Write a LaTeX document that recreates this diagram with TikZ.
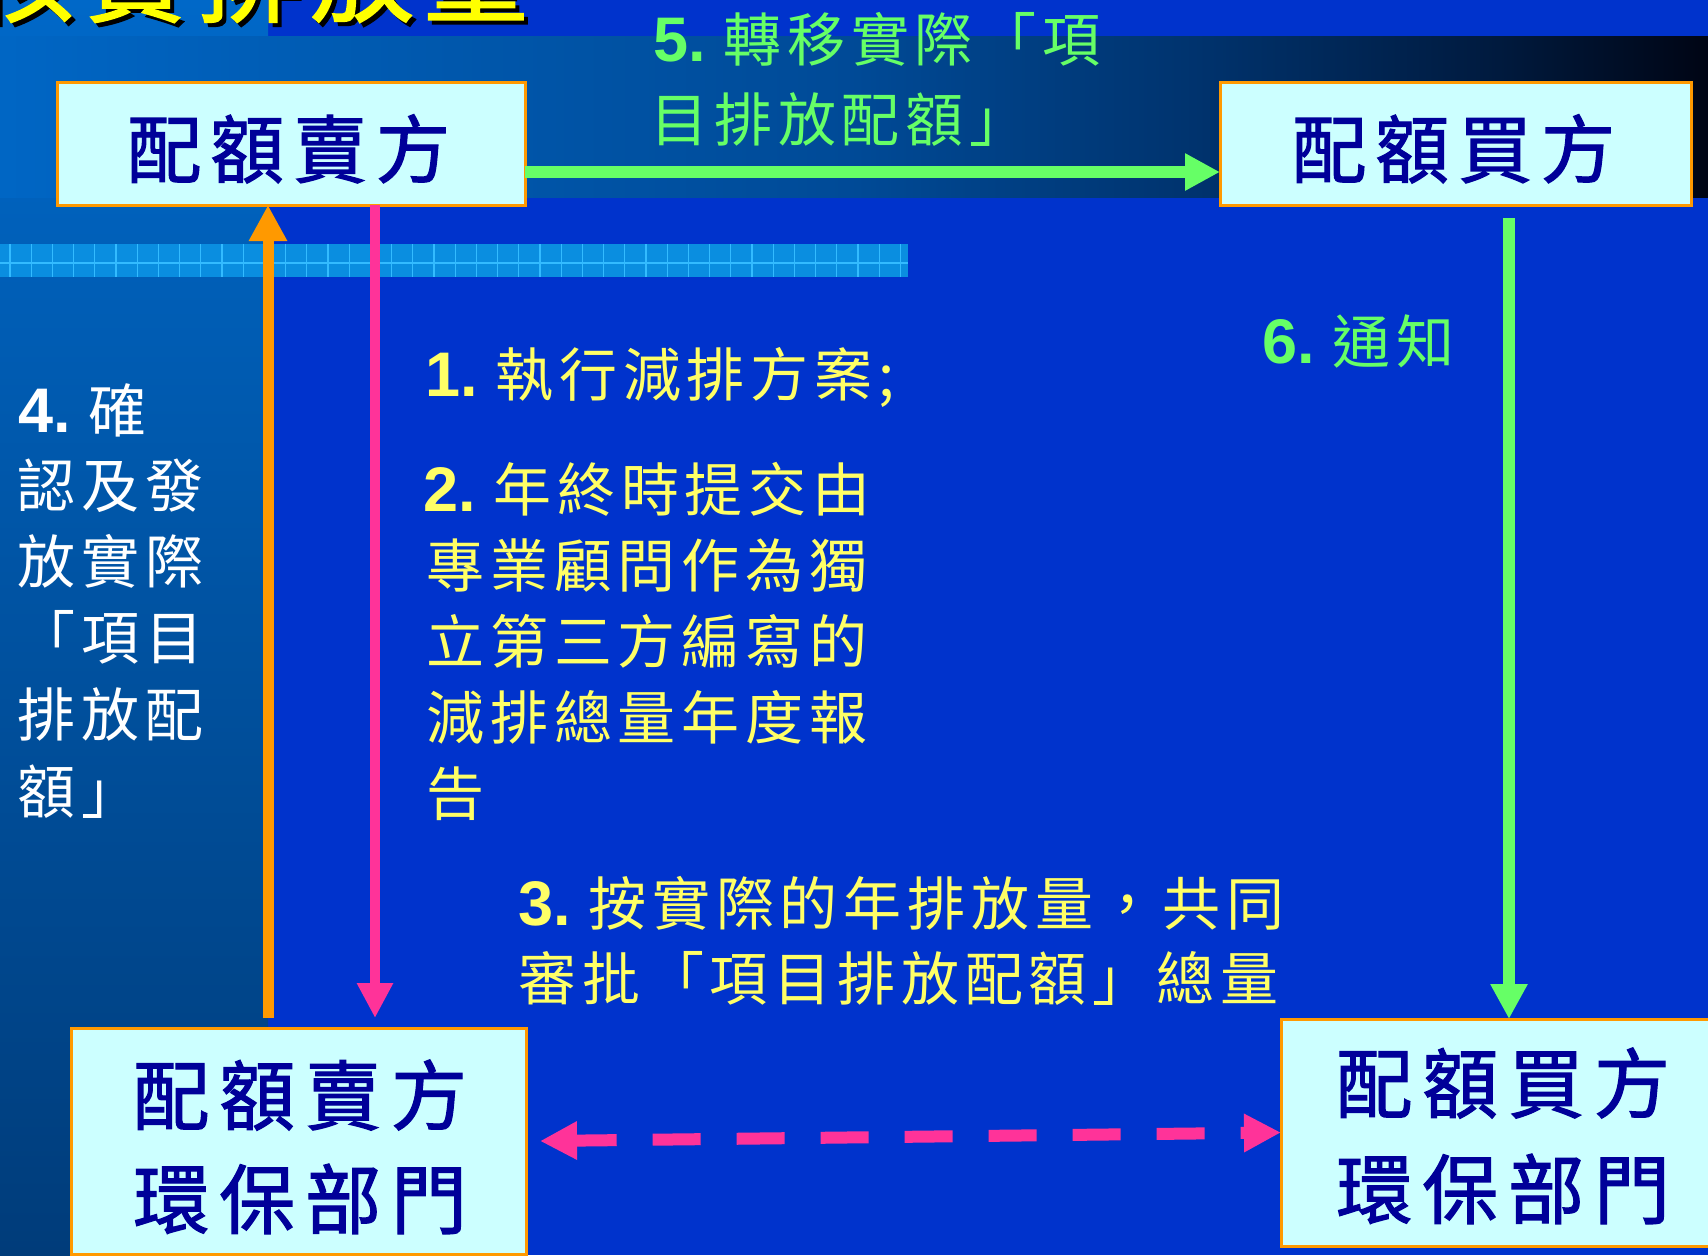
\documentclass[tikz,border=0pt]{standalone}
\usepackage{fontspec}
\newfontfamily\cjkf{Noto Sans CJK TC}
\newfontfamily\cjkfb{Noto Sans CJK TC}[FakeBold=1.6]
\newfontfamily\numf{Liberation Sans}
\usetikzlibrary{arrows.meta,calc}
\definecolor{bgblue}{HTML}{0033CC}
\definecolor{stripTop}{HTML}{0068C8}
\definecolor{stripBot}{HTML}{003C7A}
\definecolor{gridfill}{HTML}{0A8EE0}
\definecolor{gridline}{HTML}{33BBFF}
\definecolor{boxfill}{HTML}{CCFFFF}
\definecolor{boxedge}{HTML}{FF9900}
\definecolor{boxtext}{HTML}{000099}
\definecolor{lgreen}{HTML}{66FF66}
\definecolor{lyellow}{HTML}{FFFF66}
\definecolor{aorange}{HTML}{FF9900}
\definecolor{apink}{HTML}{FF3399}
\definecolor{ttlyellow}{HTML}{FFFF00}
\pgfdeclarehorizontalshading{bandshade}{100bp}{rgb(0bp)=(0,0.40,0.77); rgb(25bp)=(0,0.40,0.77); rgb(50bp)=(0,0.29,0.59); rgb(60bp)=(0,0.20,0.43); rgb(69bp)=(0,0.10,0.24); rgb(75bp)=(0,0.02,0.08); rgb(100bp)=(0,0.02,0.08)}
\newcommand\BoxFont{\cjkfb\fontsize{38pt}{44pt}\selectfont\addfontfeature{LetterSpace=13}}
\newcommand\BoxFontTop{\cjkfb\fontsize{37pt}{44pt}\selectfont\addfontfeature{LetterSpace=12}}
\newcommand\LbTxt{\cjkf\fontsize{29pt}{34pt}\selectfont\addfontfeature{LetterSpace=10}}
\newcommand\LbNum{\numf\bfseries\fontsize{31.5pt}{34pt}\selectfont}
\newcommand\TitleFont{\cjkfb\fontsize{52pt}{60pt}\selectfont\addfontfeature{LetterSpace=9}}
\begin{document}
\begin{tikzpicture}[x=0.5pt,y=-0.5pt,
  box/.style={draw=boxedge,fill=boxfill,line width=1.5pt,inner sep=0pt,outer sep=0pt,rectangle},
  boxtxt/.style={anchor=base west,inner sep=0pt,text=boxtext,font=\BoxFont},
  boxtxttop/.style={anchor=base west,inner sep=0pt,text=boxtext,font=\BoxFontTop},
  lbl/.style={anchor=base west,inner sep=0pt},
  garrow/.style={draw=lgreen,line width=6pt,-{Triangle[length=17.5pt,width=17.5pt]}},
  oarrow/.style={draw=aorange,line width=5.5pt,-{Triangle[length=18pt,width=18pt]}},
  parrow/.style={draw=apink,line width=5pt,-{Triangle[length=17.5pt,width=17pt]}},
  pdash/.style={draw=apink,line width=6pt,dash pattern=on 24pt off 18pt,dash phase=3pt,{Triangle[length=18.5pt,width=18pt]}-{Triangle[length=18.5pt,width=18pt]}}]
\useasboundingbox (0,0) rectangle (1708,1255);
% background
\fill[bgblue] (0,0) rectangle (1708,1255);
\shade[top color=stripTop,bottom color=stripBot] (0,0) rectangle (268,1255);
\shade[shading=bandshade] (0,36) rectangle (1708,197);
% grid band
\fill[gridfill] (0,244) rectangle (908,277);
\foreach \k in {0,...,42} \draw[gridline,line width=0.6pt] ({10+21.2*\k},244) -- ({10+21.2*\k},277);
\draw[gridline,line width=0.6pt] (0,263) -- (908,263);
% title (cut off at top)
\node[lbl,text=black] (titleShadow) at (-26,18) {\TitleFont 核實排放量};
\node[lbl,text=ttlyellow] (title) at (-30,14) {\TitleFont 核實排放量};
% boxes
\node[box,minimum width=234pt,minimum height=61.5pt] (seller) at (291,143.5) {};
\node[box,minimum width=235.5pt,minimum height=61.5pt] (buyer) at (1455.5,143.5) {};
\node[box,minimum width=227.5pt,minimum height=113pt] (sellerEPD) at (298.5,1141) {};
\node[box,minimum width=224.5pt,minimum height=113.5pt] (buyerEPD) at (1505.5,1132.5) {};
\node[boxtxttop] (sellerTxt) at (127,177) {配額賣方};
\node[boxtxttop] (buyerTxt) at (1292,177) {配額買方};
\node[boxtxt] (sellerEPDa) at (133,1124) {配額賣方};
\node[boxtxt] (sellerEPDb) at (133,1228) {環保部門};
\node[boxtxt] (buyerEPDa) at (1336,1112) {配額買方};
\node[boxtxt] (buyerEPDb) at (1336,1218) {環保部門};
% connectors
\coordinate (oBot) at (268,1018);
\coordinate (pTop) at (375,0);
\coordinate (pBot) at (375,1018);
\coordinate (gTop) at (1509,218);
\draw[garrow] ($(seller.east)+(0,28.5)$) -- ($(buyer.west)+(0,28.5)$);
\draw[oarrow] (oBot) -- (oBot |- seller.south);
\draw[parrow] (pTop |- seller.south) -- (pBot);
\draw[garrow] (gTop) -- (gTop |- buyerEPD.north);
\draw[pdash] ($(sellerEPD.east)+(14,0)$) -- (buyerEPD.west);
% labels
\node[lbl,text=lgreen] (l5a) at (653,61) {{\LbNum 5.\ }{\LbTxt 轉移實際「項}};
\node[lbl,text=lgreen] (l5b) at (650,141) {\LbTxt 目排放配額」};
\node[lbl,text=lyellow] (l1) at (425,396) {{\LbNum 1.\ }{\LbTxt 執行減排方案;}};
\node[lbl,text=lyellow] (l2a) at (423,511) {{\LbNum 2.\ }{\LbTxt 年終時提交由}};
\node[lbl,text=lyellow] (l2b) at (426,587) {\LbTxt 專業顧問作為獨};
\node[lbl,text=lyellow] (l2c) at (426,663) {\LbTxt 立第三方編寫的};
\node[lbl,text=lyellow] (l2d) at (426,739) {\LbTxt 減排總量年度報};
\node[lbl,text=lyellow] (l2e) at (426,815) {\LbTxt 告};
\node[lbl,text=lyellow] (l3a) at (518,925) {{\LbNum 3.\ }{\LbTxt 按實際的年排放量，共同}};
\node[lbl,text=lyellow] (l3b) at (518,1000) {\LbTxt 審批「項目排放配額」總量};
\node[lbl,text=white] (l4a) at (18,432) {{\LbNum 4.\ }{\LbTxt 確}};
\node[lbl,text=white] (l4b) at (17,507) {\LbTxt 認及發};
\node[lbl,text=white] (l4c) at (17,583) {\LbTxt 放實際};
\node[lbl,text=white] (l4d) at (17,659) {\LbTxt 「項目};
\node[lbl,text=white] (l4e) at (17,736) {\LbTxt 排放配};
\node[lbl,text=white] (l4f) at (17,813) {\LbTxt 額」};
\node[lbl,text=lgreen] (l6) at (1262,363) {{\LbNum 6.\ }{\LbTxt 通知}};
\end{tikzpicture}
\end{document}
